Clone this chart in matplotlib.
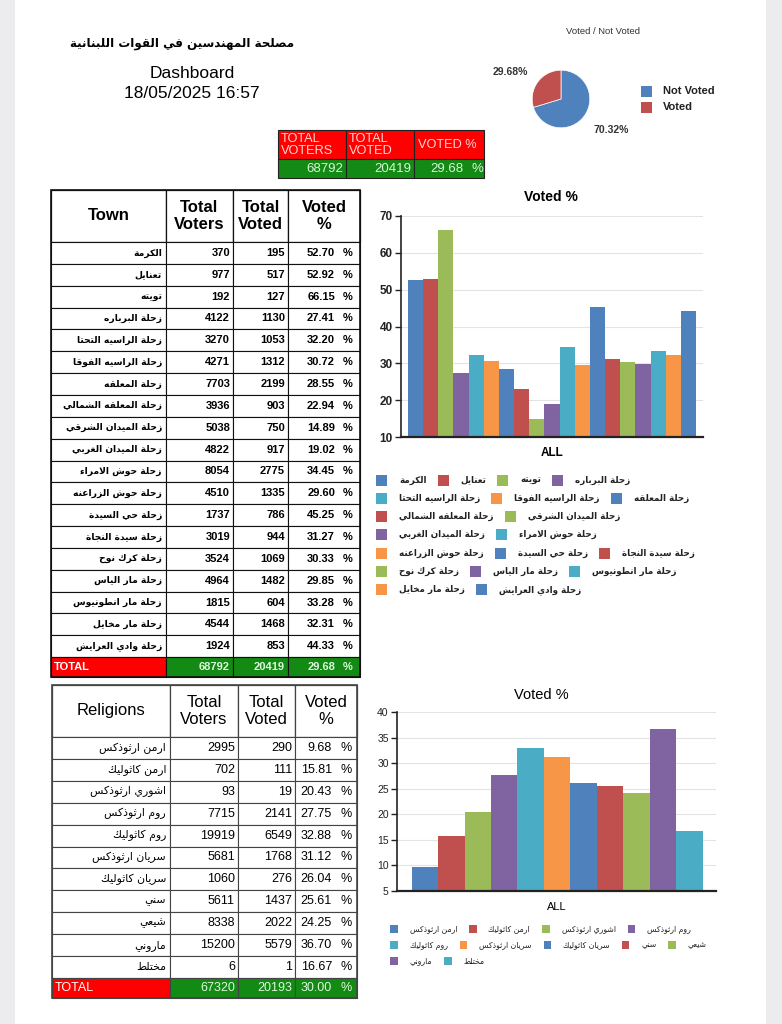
import matplotlib
matplotlib.use('Agg')
import matplotlib.pyplot as plt
from matplotlib.patches import Rectangle

plt.rcParams['font.family'] = ['Liberation Sans', 'DejaVu Sans']

# ---- data ----
title_ar = 'مصلحة المهندسين في القوات اللبنانية'
dash_title = 'Dashboard'
dash_time = '18/05/2025 16:57'

total_voters = 68792
total_voted = 20419
total_pct = 29.68

pie_labels = ['Not Voted', 'Voted']
pie_values = [70.32, 29.68]

towns = ['الكرمة', 'تعنايل', 'تويته', 'زحلة البرباره', 'زحلة الراسيه التحتا',
         'زحلة الراسيه الفوقا', 'زحلة المعلقه', 'زحلة المعلقه الشمالي',
         'زحلة الميدان الشرقي', 'زحلة الميدان الغربي', 'زحلة حوش الامراء',
         'زحلة حوش الزراعنه', 'زحلة حي السيدة', 'زحلة سيدة النجاة',
         'زحلة كرك نوح', 'زحلة مار الياس', 'زحلة مار انطونيوس',
         'زحلة مار مخايل', 'زحلة وادي العرايش']
town_voters = [370, 977, 192, 4122, 3270, 4271, 7703, 3936, 5038, 4822,
               8054, 4510, 1737, 3019, 3524, 4964, 1815, 4544, 1924]
town_voted = [195, 517, 127, 1130, 1053, 1312, 2199, 903, 750, 917,
              2775, 1335, 786, 944, 1069, 1482, 604, 1468, 853]
town_pct = [52.70, 52.92, 66.15, 27.41, 32.20, 30.72, 28.55, 22.94, 14.89, 19.02,
            34.45, 29.60, 45.25, 31.27, 30.33, 29.85, 33.28, 32.31, 44.33]
town_legend_rows = [4, 3, 2, 2, 3, 3, 2]

religions = ['ارمن ارثوذكس', 'ارمن كاثوليك', 'اشوري ارثوذكس', 'روم ارثوذكس',
             'روم كاثوليك', 'سريان ارثوذكس', 'سريان كاثوليك', 'سني', 'شيعي',
             'ماروني', 'مختلط']
rel_voters = [2995, 702, 93, 7715, 19919, 5681, 1060, 5611, 8338, 15200, 6]
rel_voted = [290, 111, 19, 2141, 6549, 1768, 276, 1437, 2022, 5579, 1]
rel_pct = [9.68, 15.81, 20.43, 27.75, 32.88, 31.12, 26.04, 25.61, 24.25, 36.70, 16.67]
rel_total = [67320, 20193, 30.00]
rel_legend_rows = [4, 5, 2]

palette = ['#4F81BD', '#C0504D', '#9BBB59', '#8064A2', '#4BACC6', '#F79646']
RED = '#FF0000'
GREEN = '#138A13'

# ---- minimal arabic shaping (matplotlib has no complex text layout) ----
FORMS = {
    'ء': (0xFE80, None, None, None), 'آ': (0xFE81, 0xFE82, None, None),
    'أ': (0xFE83, 0xFE84, None, None), 'ؤ': (0xFE85, 0xFE86, None, None),
    'إ': (0xFE87, 0xFE88, None, None), 'ئ': (0xFE89, 0xFE8A, 0xFE8B, 0xFE8C),
    'ا': (0xFE8D, 0xFE8E, None, None), 'ب': (0xFE8F, 0xFE90, 0xFE91, 0xFE92),
    'ة': (0xFE93, 0xFE94, None, None), 'ت': (0xFE95, 0xFE96, 0xFE97, 0xFE98),
    'ث': (0xFE99, 0xFE9A, 0xFE9B, 0xFE9C), 'ج': (0xFE9D, 0xFE9E, 0xFE9F, 0xFEA0),
    'ح': (0xFEA1, 0xFEA2, 0xFEA3, 0xFEA4), 'خ': (0xFEA5, 0xFEA6, 0xFEA7, 0xFEA8),
    'د': (0xFEA9, 0xFEAA, None, None), 'ذ': (0xFEAB, 0xFEAC, None, None),
    'ر': (0xFEAD, 0xFEAE, None, None), 'ز': (0xFEAF, 0xFEB0, None, None),
    'س': (0xFEB1, 0xFEB2, 0xFEB3, 0xFEB4), 'ش': (0xFEB5, 0xFEB6, 0xFEB7, 0xFEB8),
    'ص': (0xFEB9, 0xFEBA, 0xFEBB, 0xFEBC), 'ض': (0xFEBD, 0xFEBE, 0xFEBF, 0xFEC0),
    'ط': (0xFEC1, 0xFEC2, 0xFEC3, 0xFEC4), 'ظ': (0xFEC5, 0xFEC6, 0xFEC7, 0xFEC8),
    'ع': (0xFEC9, 0xFECA, 0xFECB, 0xFECC), 'غ': (0xFECD, 0xFECE, 0xFECF, 0xFED0),
    'ف': (0xFED1, 0xFED2, 0xFED3, 0xFED4), 'ق': (0xFED5, 0xFED6, 0xFED7, 0xFED8),
    'ك': (0xFED9, 0xFEDA, 0xFEDB, 0xFEDC), 'ل': (0xFEDD, 0xFEDE, 0xFEDF, 0xFEE0),
    'م': (0xFEE1, 0xFEE2, 0xFEE3, 0xFEE4), 'ن': (0xFEE5, 0xFEE6, 0xFEE7, 0xFEE8),
    'ه': (0xFEE9, 0xFEEA, 0xFEEB, 0xFEEC), 'و': (0xFEED, 0xFEEE, None, None),
    'ى': (0xFEEF, 0xFEF0, None, None), 'ي': (0xFEF1, 0xFEF2, 0xFEF3, 0xFEF4),
}
LAM_ALEF = {'ا': (0xFEFB, 0xFEFC), 'أ': (0xFEF7, 0xFEF8),
            'إ': (0xFEF9, 0xFEFA), 'آ': (0xFEF5, 0xFEF6)}


def joins_next(c):
    return c in FORMS and FORMS[c][2] is not None


def ar(text):
    out = []
    i = 0
    n = len(text)
    while i < n:
        c = text[i]
        if c not in FORMS:
            out.append(c)
            i += 1
            continue
        prev_join = i > 0 and joins_next(text[i - 1])
        nxt = text[i + 1] if i + 1 < n else ''
        if c == 'ل' and nxt in LAM_ALEF:
            iso, fin = LAM_ALEF[nxt]
            out.append(chr(fin if prev_join else iso))
            i += 2
            continue
        iso, fin, ini, med = FORMS[c]
        next_join = ini is not None and nxt in FORMS
        if prev_join and next_join:
            out.append(chr(med))
        elif next_join:
            out.append(chr(ini))
        elif prev_join and fin:
            out.append(chr(fin))
        else:
            out.append(chr(iso))
        i += 1
    return ''.join(out)[::-1]


AR_FONT = ['DejaVu Sans']

fig = plt.figure(figsize=(7.82, 10.24), dpi=100)
fig.patch.set_facecolor('white')
W, H = 782, 1024

# pixel overlay for tables and text
ov = fig.add_axes([0, 0, 1, 1])
ov.set_xlim(0, W)
ov.set_ylim(H, 0)
ov.axis('off')
ov.set_zorder(-1)

# gray page margins
ov.add_patch(Rectangle((0, 0), 15, H, color='#ECECEF', lw=0))
ov.add_patch(Rectangle((766, 0), 16, H, color='#ECECEF', lw=0))


def px_axes(x0, y0, x1, y1):
    return fig.add_axes([x0 / W, 1 - y1 / H, (x1 - x0) / W, (y1 - y0) / H])


# ---- title block ----
ov.text(182, 43, ar(title_ar), ha='center', va='center', fontsize=8.6,
        fontweight='bold', family=AR_FONT)
ov.text(192, 73, dash_title, ha='center', va='center', fontsize=12.5)
ov.text(192, 94, dash_time, ha='center', va='center', fontsize=12.5)

# ---- summary table ----
sx = [278, 346, 414, 484]
sy = [130, 159, 178]
for j in range(3):
    ov.add_patch(Rectangle((sx[j], sy[0]), sx[j + 1] - sx[j], sy[1] - sy[0],
                           facecolor=RED, edgecolor='#222222', lw=0.8))
    ov.add_patch(Rectangle((sx[j], sy[1]), sx[j + 1] - sx[j], sy[2] - sy[1],
                           facecolor=GREEN, edgecolor='#222222', lw=0.8))
hc = '#FFD6D6'
vc = '#D8F5D8'
ov.text(281, 145, 'TOTAL\nVOTERS', ha='left', va='center', fontsize=9.2,
        color=hc, linespacing=0.95)
ov.text(349, 145, 'TOTAL\nVOTED', ha='left', va='center', fontsize=9.2,
        color=hc, linespacing=0.95)
ov.text(418, 145, 'VOTED %', ha='left', va='center', fontsize=9.2, color=hc)
ov.text(343, 168.5, f'{total_voters}', ha='right', va='center', fontsize=9.5, color=vc)
ov.text(411, 168.5, f'{total_voted}', ha='right', va='center', fontsize=9.5, color=vc)
ov.text(463, 168.5, f'{total_pct:.2f}', ha='right', va='center', fontsize=9.5, color=vc)
ov.text(477, 168.5, '%', ha='center', va='center', fontsize=9.5, color=vc)

# ---- pie ----
ax_pie = px_axes(525, 63, 597, 135)
ax_pie.pie(pie_values, colors=[palette[0], palette[1]], startangle=90,
           counterclock=False, wedgeprops=dict(linewidth=0.5, edgecolor='white'))
ax_pie.set_aspect('equal')
ov.text(603, 31, 'Voted / Not Voted', ha='center', va='center', fontsize=6.8, color='#333333')
ov.text(510, 72, f'{pie_values[1]:.2f}%', ha='center', va='center', fontsize=7.5,
        fontweight='bold', color='#333333')
ov.text(611, 130, f'{pie_values[0]:.2f}%', ha='center', va='center', fontsize=7.5,
        fontweight='bold', color='#333333')
for k, lab in enumerate(pie_labels):
    yy = 91 + 16 * k
    ov.add_patch(Rectangle((641, yy - 5.5), 11, 11, color=palette[k], lw=0))
    ov.text(663, yy, lab, ha='left', va='center', fontsize=8, fontweight='bold', color='#222222')


# ---- generic table drawer ----
def draw_table(cols, y_top, y_head, row_h, names, voters, voted, pct, total,
               header, bold, name_fs, num_fs, head_fs, pct_x, sign_x, line_col):
    wt = 'bold' if bold else 'normal'
    n = len(names)
    y_tot = y_head + n * row_h
    y_end = y_tot + (row_h - 2)
    # header cells
    for j in range(4):
        ov.add_patch(Rectangle((cols[j], y_top), cols[j + 1] - cols[j], y_head - y_top,
                               facecolor='white', edgecolor=line_col, lw=0.9))
    hy = (y_top + y_head) / 2
    for j, h in enumerate(header):
        ov.text((cols[j] + cols[j + 1]) / 2, hy, h, ha='center', va='center',
                fontsize=head_fs, fontweight=wt, linespacing=1.15)
    # data rows
    for i in range(n):
        y0 = y_head + i * row_h
        for j in range(4):
            ov.add_patch(Rectangle((cols[j], y0), cols[j + 1] - cols[j], row_h,
                                   facecolor='white', edgecolor=line_col, lw=0.8))
        yc = y0 + row_h / 2
        ov.text(cols[1] - 4, yc, ar(names[i]), ha='right', va='center',
                fontsize=name_fs, fontweight=wt, family=AR_FONT)
        ov.text(cols[2] - 3, yc, f'{voters[i]}', ha='right', va='center', fontsize=num_fs, fontweight=wt)
        ov.text(cols[3] - 3, yc, f'{voted[i]}', ha='right', va='center', fontsize=num_fs, fontweight=wt)
        ov.text(pct_x, yc, f'{pct[i]:.2f}', ha='right', va='center', fontsize=num_fs, fontweight=wt)
        ov.text(sign_x, yc, '%', ha='center', va='center', fontsize=num_fs, fontweight=wt)
    # total row
    th = y_end - y_tot
    ov.add_patch(Rectangle((cols[0], y_tot), cols[1] - cols[0], th,
                           facecolor=RED, edgecolor=line_col, lw=0.8))
    for j in range(1, 4):
        ov.add_patch(Rectangle((cols[j], y_tot), cols[j + 1] - cols[j], th,
                               facecolor=GREEN, edgecolor=line_col, lw=0.8))
    yc = y_tot + th / 2
    tc = '#DDF7DD'
    ov.text(cols[0] + 3, yc, 'TOTAL', ha='left', va='center', fontsize=num_fs,
            fontweight=wt, color='white')
    ov.text(cols[2] - 3, yc, f'{total[0]}', ha='right', va='center', fontsize=num_fs, fontweight=wt, color=tc)
    ov.text(cols[3] - 3, yc, f'{total[1]}', ha='right', va='center', fontsize=num_fs, fontweight=wt, color=tc)
    ov.text(pct_x, yc, f'{total[2]:.2f}', ha='right', va='center', fontsize=num_fs, fontweight=wt, color=tc)
    ov.text(sign_x, yc, '%', ha='center', va='center', fontsize=num_fs, fontweight=wt, color=tc)
    ov.add_patch(Rectangle((cols[0], y_top), cols[-1] - cols[0], y_end - y_top,
                           fill=False, edgecolor=line_col, lw=1.2))


draw_table([51, 166, 233, 288, 360], 190, 242, 21.85, towns, town_voters, town_voted,
           town_pct, [total_voters, total_voted, total_pct],
           ['Town', 'Total\nVoters', 'Total\nVoted', 'Voted\n%'], True,
           6.6, 8.0, 12, 335, 348, '#111111')

draw_table([52, 170, 238, 295, 357], 685, 737, 21.9, religions, rel_voters, rel_voted,
           rel_pct, rel_total,
           ['Religions', 'Total\nVoters', 'Total\nVoted', 'Voted\n%'], False,
           7.8, 9, 12, 332, 346, '#444444')


# ---- bar charts ----
def bar_chart(box, values, ylim, yticks, bold, tick_fs):
    ax = px_axes(*box)
    xs = list(range(len(values)))
    ax.bar(xs, values, width=1.0, color=[palette[k % 6] for k in xs],
           bottom=0, linewidth=0, zorder=2)
    ax.set_ylim(*ylim)
    ax.set_xlim(-0.5 - 0.45, len(values) - 0.5 + 0.45)
    ax.set_yticks(yticks)
    ax.set_xticks([])
    ax.grid(axis='y', color='#E3E3E3', linewidth=0.8, zorder=0)
    for s in ['top', 'right']:
        ax.spines[s].set_visible(False)
    ax.spines['left'].set_color('#222222')
    ax.spines['bottom'].set_color('#222222')
    ax.spines['left'].set_linewidth(1.2)
    ax.spines['bottom'].set_linewidth(1.6)
    ax.tick_params(axis='y', length=4, width=1, labelsize=tick_fs, pad=2,
                   colors='#222222')
    for t in ax.get_yticklabels():
        t.set_fontweight('bold' if bold else 'normal')
    return ax


ax1 = bar_chart((401, 216, 703, 437), town_pct, (10, 70), range(10, 71, 10), True, 8.5)
ov.text(551, 197, 'Voted %', ha='center', va='center', fontsize=10, fontweight='bold')
ov.text(552, 453, 'ALL', ha='center', va='center', fontsize=8.5, fontweight='bold')

ax2 = bar_chart((397, 712, 716, 891), rel_pct, (5, 40), range(5, 41, 5), False, 7.5)
ax2.set_xlim(-0.5 - 0.55, len(rel_pct) - 0.5 + 0.5)
ov.text(541, 695, 'Voted %', ha='center', va='center', fontsize=10.5)
ov.text(557, 907, 'ALL', ha='center', va='center', fontsize=8)


# ---- flowing legends ----
def flow_legend(names, rows, x0, y0, dy, sq, gap_txt, gap_item, fs, bold):
    fig.canvas.draw()
    r = fig.canvas.get_renderer()
    k = 0
    for ri, cnt in enumerate(rows):
        x = x0
        y = y0 + ri * dy
        for _ in range(cnt):
            ov.add_patch(Rectangle((x, y - sq / 2), sq, sq, color=palette[k % 6], lw=0))
            t = ov.text(x + sq + gap_txt, y, ar(names[k]), ha='left', va='center',
                        fontsize=fs, fontweight='bold' if bold else 'normal',
                        family=AR_FONT, color='#222222')
            bb = t.get_window_extent(renderer=r)
            x = x + sq + gap_txt + bb.width + gap_item
            k += 1


flow_legend(towns, town_legend_rows, 376, 480, 18.3, 11, 12, 11, 6.3, True)
flow_legend(religions, rel_legend_rows, 390, 929, 16, 7.5, 12, 12, 5.6, False)

fig.savefig('out.png', dpi=100, facecolor='white')
